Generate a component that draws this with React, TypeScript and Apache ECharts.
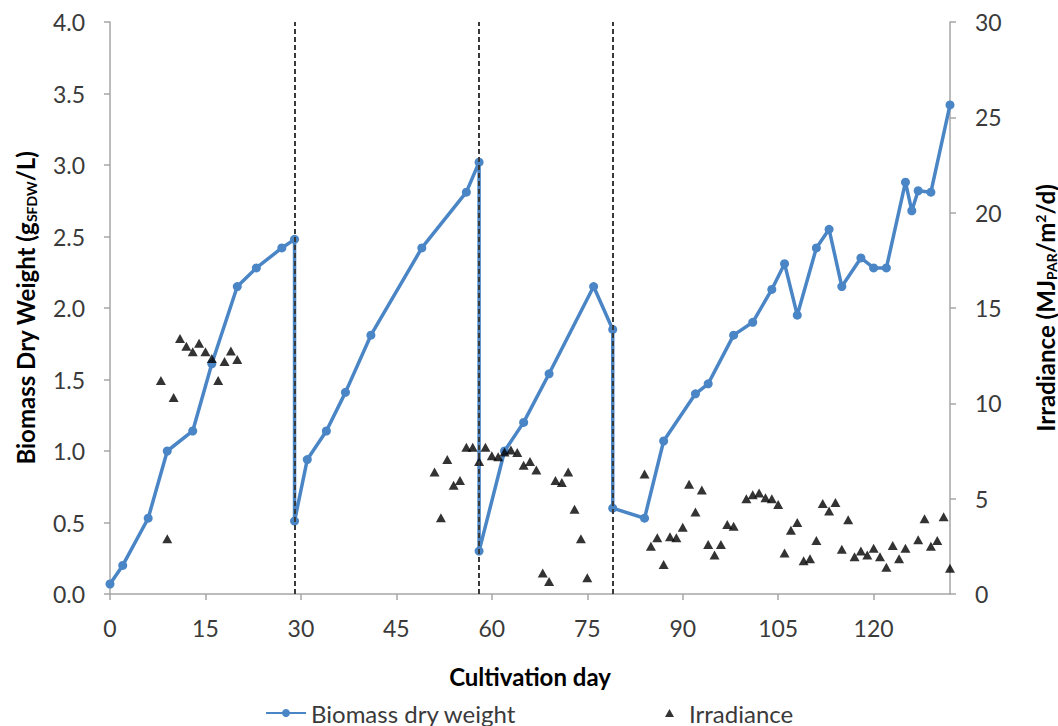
import React, { useEffect, useRef } from "react";
import * as echarts from "echarts";

// Biomass dry weight [cultivation day, g/L]
const biomass: [number, number][] = [
  [0, 0.07], [2, 0.2], [6, 0.53], [9, 1.0], [13, 1.14], [16, 1.61], [20, 2.15], [23, 2.28], [27, 2.42], [29, 2.48],
  [29, 0.51], [31, 0.94], [34, 1.14], [37, 1.41], [41, 1.81], [49, 2.42], [56, 2.81], [58, 3.02],
  [58, 0.3], [62, 1.0], [65, 1.2], [69, 1.54], [76, 2.15], [79, 1.85],
  [79, 0.6], [84, 0.53], [87, 1.07], [92, 1.4], [94, 1.47], [98, 1.81], [101, 1.9], [104, 2.13], [106, 2.31],
  [108, 1.95], [111, 2.42], [113, 2.55], [115, 2.15], [118, 2.35], [120, 2.28], [122, 2.28], [125, 2.88],
  [126, 2.68], [127, 2.82], [129, 2.81], [132, 3.42],
];

// Irradiance [cultivation day, MJ_PAR/m2/d]
const irradiance: [number, number][] = [
  [8, 11.2], [9, 2.9], [10, 10.3], [11, 13.4], [12, 13.0], [13, 12.7], [14, 13.15], [15, 12.7], [16, 12.35],
  [17, 11.2], [18, 12.2], [19, 12.75], [20, 12.3],
  [51, 6.4], [52, 4.0], [53, 7.05], [54, 5.7], [55, 5.95], [56, 7.7], [57, 7.7], [58, 6.95], [59, 7.7],
  [60, 7.25], [61, 7.2], [62, 7.45], [63, 7.55], [64, 7.42], [65, 6.75], [66, 6.95], [67, 6.5], [68, 1.1],
  [69, 0.65], [70, 5.95], [71, 5.85], [72, 6.4], [73, 4.45], [74, 2.9], [75, 0.85],
  [84, 6.3], [85, 2.5], [86, 2.95], [87, 1.55], [88, 3.0], [89, 2.95], [90, 3.5], [91, 5.75], [92, 4.3],
  [93, 5.45], [94, 2.6], [95, 2.05], [96, 2.6], [97, 3.65], [98, 3.55], [100, 5.0], [101, 5.2], [102, 5.3],
  [103, 5.05], [104, 5.0], [105, 4.7], [106, 2.15], [107, 3.35], [108, 3.75], [109, 1.75], [110, 1.85],
  [111, 2.8], [112, 4.75], [113, 4.35], [114, 4.8], [115, 2.35], [116, 3.9], [117, 1.95], [118, 2.25],
  [119, 2.05], [120, 2.4], [121, 1.95], [122, 1.4], [123, 2.55], [124, 1.85], [125, 2.4], [127, 2.85],
  [128, 3.95], [129, 2.5], [130, 2.8], [131, 4.05], [132, 1.35],
];

// Harvest days (dashed vertical lines)
const harvestDays = [29, 58, 79];

const FONT = "Lato";
const BLUE = "#4a85c6";
const AXIS = "#a6a6a6";
const LABEL = "#3a3a3a";

export default function App() {
  const ref = useRef<HTMLDivElement>(null);
  useEffect(() => {
    if (!ref.current) return;
    const chart = echarts.init(ref.current, undefined, { renderer: "svg" });
    const axisCommon = {
      axisLine: { show: true, lineStyle: { color: AXIS, width: 1.5 } },
      axisTick: { show: true, inside: false, length: 6, lineStyle: { color: AXIS, width: 1.5 } },
      splitLine: { show: false },
    };
    const subStyle = { fontSize: 14, fontWeight: "bold", fontFamily: FONT, color: "#000", padding: [12, 0, 0, 0] };
    const supStyle = { fontSize: 14, fontWeight: "bold", fontFamily: FONT, color: "#000", padding: [0, 0, 10, 0] };
    chart.setOption({
      animation: false,
      backgroundColor: "#ffffff",
      textStyle: { fontFamily: FONT },
      grid: { left: 110, right: 108, top: 22, bottom: 132, containLabel: false, outerBoundsMode: "none" },
      xAxis: {
        type: "value",
        min: 0,
        max: 132,
        interval: 15,
        ...axisCommon,
        axisLabel: { color: LABEL, fontSize: 23, fontFamily: FONT, margin: 22, showMaxLabel: false },
        name: "Cultivation day",
        nameLocation: "middle",
        nameGap: 70,
        nameTextStyle: { color: "#000", fontSize: 24, fontWeight: "bold", fontFamily: FONT },
      },
      yAxis: [
        {
          type: "value",
          min: 0,
          max: 4,
          interval: 0.5,
          ...axisCommon,
          axisLabel: {
            color: LABEL,
            fontSize: 23,
            fontFamily: FONT,
            margin: 25,
            formatter: (v: number) => v.toFixed(1),
          },
          name: "Biomass Dry Weight (g{sub|SFDW}/L)",
          nameLocation: "middle",
          nameGap: 72,
          nameRotate: 90,
          nameTextStyle: {
            color: "#000",
            fontSize: 24,
            fontWeight: "bold",
            fontFamily: FONT,
            rich: { sub: subStyle },
          },
        },
        {
          type: "value",
          min: 0,
          max: 30,
          interval: 5,
          position: "right",
          ...axisCommon,
          axisLabel: { color: LABEL, fontSize: 23, fontFamily: FONT, margin: 25 },
          name: "Irradiance (MJ{sub|PAR}/m{sup|2}/d)",
          nameLocation: "middle",
          nameGap: 82,
          nameRotate: 90,
          nameTextStyle: {
            color: "#000",
            fontSize: 24,
            fontWeight: "bold",
            fontFamily: FONT,
            rich: { sub: subStyle, sup: supStyle },
          },
        },
      ],
      legend: [
        {
          data: ["Biomass dry weight"],
          left: 260,
          top: 696,
          itemWidth: 40,
          itemHeight: 10,
          textStyle: { fontSize: 24, color: LABEL, fontFamily: FONT },
        },
        {
          data: ["Irradiance"],
          left: 660,
          top: 696,
          itemWidth: 9,
          itemHeight: 8,
          textStyle: { fontSize: 24, color: LABEL, fontFamily: FONT, padding: [0, 0, 0, 10] },
        },
      ],
      series: [
        {
          name: "Biomass dry weight",
          type: "line",
          xAxisIndex: 0,
          yAxisIndex: 0,
          data: biomass,
          symbol: "circle",
          symbolSize: 9,
          lineStyle: { color: BLUE, width: 3.5 },
          itemStyle: { color: BLUE },
          z: 2,
        },
        {
          name: "Irradiance",
          type: "scatter",
          xAxisIndex: 0,
          yAxisIndex: 1,
          data: irradiance,
          symbol: "triangle",
          symbolSize: [10, 9],
          itemStyle: { color: "#000000" },
          z: 3,
        },
        {
          name: "harvest",
          type: "line",
          data: [],
          z: 4,
          markLine: {
            silent: true,
            symbol: "none",
            label: { show: false },
            lineStyle: { color: "#3a3a3a", type: [5, 3], width: 2 },
            data: harvestDays.map((d) => ({ xAxis: d })),
          },
        },
      ],
    });
    return () => chart.dispose();
  }, []);
  return (
    <div
      ref={ref}
      style={{ position: "absolute", left: 0, top: 0, width: 1058, height: 726 }}
    />
  );
}
